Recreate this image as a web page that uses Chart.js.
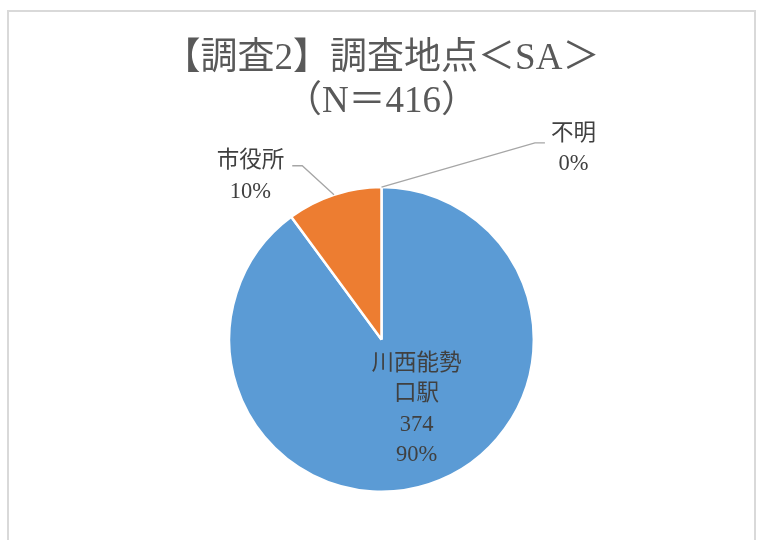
<!DOCTYPE html>
<html>
<head>
<meta charset="utf-8">
<script src="https://cdn.jsdelivr.net/npm/chart.js@4.4.1/dist/chart.umd.min.js"></script>
<style>
  html, body { margin: 0; padding: 0; background: #fff; }
  #wrap { width: 763px; height: 540px; }
</style>
</head>
<body>
<div id="wrap"><canvas id="survey_place"></canvas></div>
<script>
// 【調査2】調査地点 (N=416)
const categories = [['川西能勢', '口駅'], ['市役所'], ['不明']];
const counts = [374, 42, 0];
const colors = ['#5b9bd5', '#ed7d31', '#a5a5a5'];
const showCount = [true, false, false];

const fontFamily = '"Liberation Serif", "Noto Sans CJK JP", serif';
const total = counts.reduce((a, b) => a + b, 0);

// label placement, in units of the pie radius from its centre
const placement = [
  { inside: true, dx: 0.23, dy: 0.46 },
  { inside: false, dx: -0.86, dy: -1.07, side: 'left', lineDy: -0.07 },
  { inside: false, dx: 1.26, dy: -1.25, side: 'right', lineDy: -0.04 }
];

const framePlugin = {
  id: 'frame',
  beforeDraw(chart) {
    let ctx = chart.ctx;
    ctx.save();
    ctx.strokeStyle = '#d9d9d9';
    ctx.lineWidth = 2;
    ctx.strokeRect(8, 11, 747, 560);
    ctx.restore();
  }
};

const sliceLabels = {
  id: 'sliceLabels',
  afterDatasetsDraw(chart) {
    let ctx = chart.ctx;
    let meta = chart.getDatasetMeta(0);
    ctx.save();
    ctx.font = '22.5px ' + fontFamily;
    ctx.fillStyle = '#404040';
    ctx.textAlign = 'center';
    ctx.textBaseline = 'middle';
    let lh = 30.5;

    meta.data.forEach((arc, i) => {
      let { x, y, startAngle, endAngle, outerRadius } =
        arc.getProps(['x', 'y', 'startAngle', 'endAngle', 'outerRadius'], true);
      let r = outerRadius;
      let p = placement[i];
      let lines = categories[i].slice();
      if (showCount[i]) lines.push(String(counts[i]));
      lines.push(Math.round(counts[i] / total * 100) + '%');

      let cx = x + p.dx * r, cy = y + p.dy * r;
      let top = cy - (lines.length - 1) * lh / 2;
      lines.forEach((t, k) => ctx.fillText(t, cx, top + k * lh));

      if (!p.inside) {
        let mid = (startAngle + endAngle) / 2;
        let ax = x + Math.cos(mid) * r, ay = y + Math.sin(mid) * r;
        let w = Math.max(...lines.map(t => ctx.measureText(t).width));
        let ly = cy + p.lineDy * r;
        let ex = p.side === 'left' ? cx + w / 2 + 8 : cx - w / 2 - 6;
        let bx = p.side === 'left' ? ex + 10 : ex - 10;
        ctx.strokeStyle = '#a6a6a6';
        ctx.lineWidth = 1.3;
        ctx.beginPath();
        ctx.moveTo(ax, ay);
        ctx.lineTo(bx, ly);
        ctx.lineTo(ex, ly);
        ctx.stroke();
      }
    });
    ctx.restore();
  }
};

let data = {
  labels: categories,
  datasets: [
    {
      data: counts,
      backgroundColor: colors,
      borderColor: '#ffffff',
      borderWidth: 2.5
    }
  ]
};

let options = {
  responsive: false,
  animation: false,
  layout: { padding: { top: 0, bottom: 47, left: 0, right: 0 } },
  plugins: {
    legend: { display: false },
    tooltip: { enabled: false },
    title: {
      display: true,
      text: ['【調査2】調査地点＜SA＞', '（N＝416）'],
      color: '#595959',
      font: { family: fontFamily, size: 37, weight: 'normal', lineHeight: 1.16 },
      padding: { top: 38, bottom: 62 }
    }
  }
};

let canvas = document.getElementById('survey_place');
canvas.width = 763;
canvas.height = 540;
new Chart(canvas, { type: 'pie', plugins: [framePlugin, sliceLabels], data, options });
</script>
</body>
</html>
